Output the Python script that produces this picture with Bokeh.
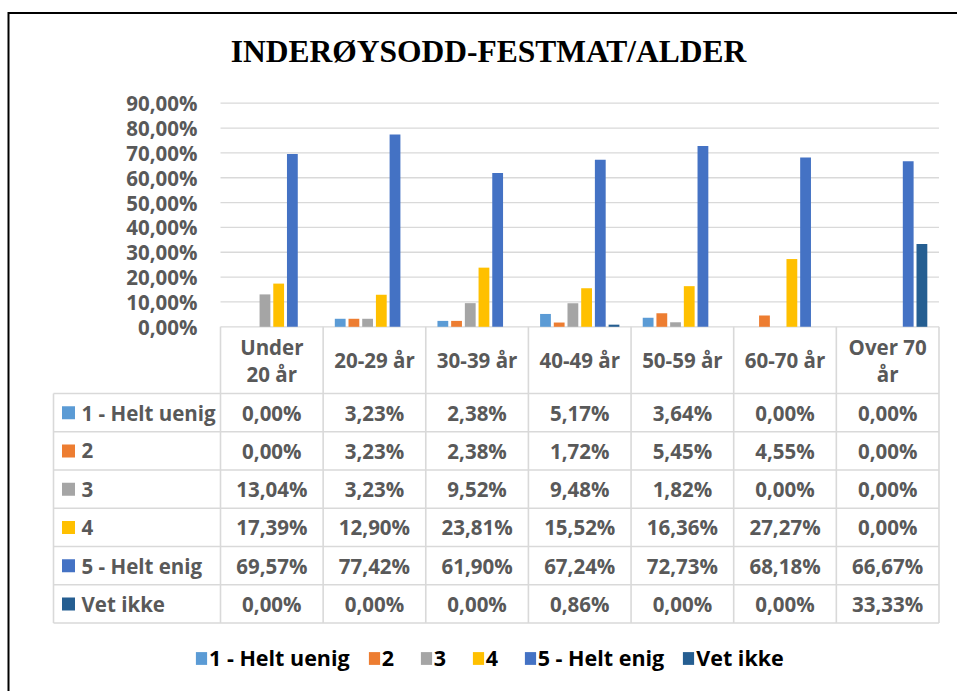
from bokeh.plotting import figure
from bokeh.models import Range1d, Legend, LegendItem
from bokeh.core.properties import value
from bokeh.embed import file_html
from bokeh.resources import INLINE

# ---------------- data ----------------
title_text = "INDERØYSODD-FESTMAT/ALDER"
categories = ["Under 20 år", "20-29 år", "30-39 år", "40-49 år", "50-59 år", "60-70 år", "Over 70 år"]
header_labels = ["Under\n20 år", "20-29 år", "30-39 år", "40-49 år", "50-59 år", "60-70 år", "Over 70\når"]
series_names = ["1 - Helt uenig", "2", "3", "4", "5 - Helt enig", "Vet ikke"]
helt_uenig = [0.00, 3.23, 2.38, 5.17, 3.64, 0.00, 0.00]
s2 = [0.00, 3.23, 2.38, 1.72, 5.45, 4.55, 0.00]
s3 = [13.04, 3.23, 9.52, 9.48, 1.82, 0.00, 0.00]
s4 = [17.39, 12.90, 23.81, 15.52, 16.36, 27.27, 0.00]
helt_enig = [69.57, 77.42, 61.90, 67.24, 72.73, 68.18, 66.67]
vet_ikke = [0.00, 0.00, 0.00, 0.86, 0.00, 0.00, 33.33]
series_values = [helt_uenig, s2, s3, s4, helt_enig, vet_ikke]
y_ticks = [0, 10, 20, 30, 40, 50, 60, 70, 80, 90]
y_tick_labels = ["0,00%", "10,00%", "20,00%", "30,00%", "40,00%", "50,00%",
                 "60,00%", "70,00%", "80,00%", "90,00%"]

# ---------------- style / layout ----------------
colors = ["#5B9BD5", "#ED7D31", "#A5A5A5", "#FFC000", "#4472C4", "#255E91"]
TXT = "#595959"
GRID = "#D9D9D9"
FONT = "Open Sans"
FS = "20.5px"
W, H = 957, 691
PAGE = 0
CAT_X0, CAT_W = 220.0, 102.64       # page px of category axis start, width of one category
Y_ZERO, PPU = 326.3, 2.4844         # page px of 0 %, px per percent unit
ROW_TOP, ROW_H = 393.0, 38.25       # page px of first table row, row height


def xd(X):
    return (X - CAT_X0) / CAT_W


def yd(Y):
    return (Y_ZERO - Y) / PPU


def td(Y):
    return (Y - ROW_TOP) / ROW_H


p = figure(width=W, height=H, output_backend="svg", toolbar_location=None,
           x_range=Range1d(xd(PAGE), xd(PAGE + W)),
           y_range=Range1d(yd(PAGE + H), yd(PAGE)),
           x_axis_type=None, y_axis_type=None, min_border=0,
           outline_line_color=None, background_fill_color="white",
           border_fill_color="white")
p.extra_y_ranges = {"tbl": Range1d(td(PAGE + H), td(PAGE))}

n_cat = len(categories)
n_ser = len(series_names)

# outer chart border (only top/left visible, rest runs off the page)
p.line(x=[xd(8), xd(8), xd(1200)], y=[yd(900), yd(12.5), yd(12.5)],
       line_color="black", line_width=2, line_join="miter")

# gridlines
p.segment(x0=0, x1=n_cat, y0=y_ticks, y1=y_ticks, line_color=GRID, line_width=1.3)

# bars
pitch = 13.7 / CAT_W
bw = 10.8 / CAT_W
bar_renderers = []
for k, vals in enumerate(series_values):
    xs = [i + 0.5 + (k - (n_ser - 1) / 2) * pitch for i in range(n_cat)]
    r = p.vbar(x=xs, top=vals, bottom=0, width=bw, fill_color=colors[k], line_color=None)
    bar_renderers.append(r)

# y tick labels
p.text(x=xd(197), y=y_ticks, text=y_tick_labels, text_align="right", text_baseline="middle",
       text_font=value(FONT), text_font_style="bold", text_font_size=FS, text_color=TXT)

# title
p.text(x=[xd(488)], y=[yd(51)], text=[title_text], text_align="center", text_baseline="middle",
       text_font=value("Liberation Serif"), text_font_style="bold", text_font_size="31.5px",
       text_color="black")

# ---------------- data table ----------------
left_x = xd(53)
header_top = td(Y_ZERO)
p.segment(x0=left_x, x1=n_cat, y0=list(range(n_ser + 1)), y1=list(range(n_ser + 1)),
          line_color=GRID, line_width=1.6, y_range_name="tbl")
p.segment(x0=list(range(n_cat + 1)), x1=list(range(n_cat + 1)), y0=header_top, y1=n_ser,
          line_color=GRID, line_width=1.6, y_range_name="tbl")
p.segment(x0=[left_x], x1=[left_x], y0=0, y1=n_ser, line_color=GRID, line_width=1.6,
          y_range_name="tbl")

# header labels
p.text(x=[i + 0.5 for i in range(n_cat)], y=header_top / 2, text=header_labels,
       text_align="center", text_baseline="middle", text_line_height=0.97,
       text_font=value(FONT), text_font_style="bold", text_font_size=FS,
       text_color=TXT, y_range_name="tbl")

# cell values
cx, cy, ct = [], [], []
for k, vals in enumerate(series_values):
    for i, v in enumerate(vals):
        cx.append(i + 0.5)
        cy.append(k + 0.5)
        ct.append(f"{v:.2f}".replace(".", ",") + "%")
p.text(x=cx, y=cy, text=ct, text_align="center", text_baseline="middle",
       text_font=value(FONT), text_font_style="bold", text_font_size=FS,
       text_color=TXT, y_range_name="tbl")

# row keys
p.rect(x=xd(68), y=[k + 0.5 for k in range(n_ser)], width=13, height=13,
       width_units="screen", height_units="screen", fill_color=colors, line_color=None,
       y_range_name="tbl")
p.text(x=xd(81), y=[k + 0.5 for k in range(n_ser)], text=series_names,
       text_align="left", text_baseline="middle",
       text_font=value(FONT), text_font_style="bold", text_font_size=FS,
       text_color=TXT, y_range_name="tbl")

# ---------------- legend ----------------
legend = Legend(items=[LegendItem(label=series_names[k], renderers=[bar_renderers[k]])
                       for k in range(n_ser)],
                orientation="horizontal", location=(194, 19),
                glyph_width=14, glyph_height=16, label_standoff=1, spacing=17,
                padding=0, margin=0, border_line_color=None, background_fill_alpha=0,
                label_text_font=FONT, label_text_font_style="bold",
                label_text_font_size="21.5px", label_text_color="black")
p.add_layout(legend)

open("out.html", "w").write(file_html(p, INLINE))
